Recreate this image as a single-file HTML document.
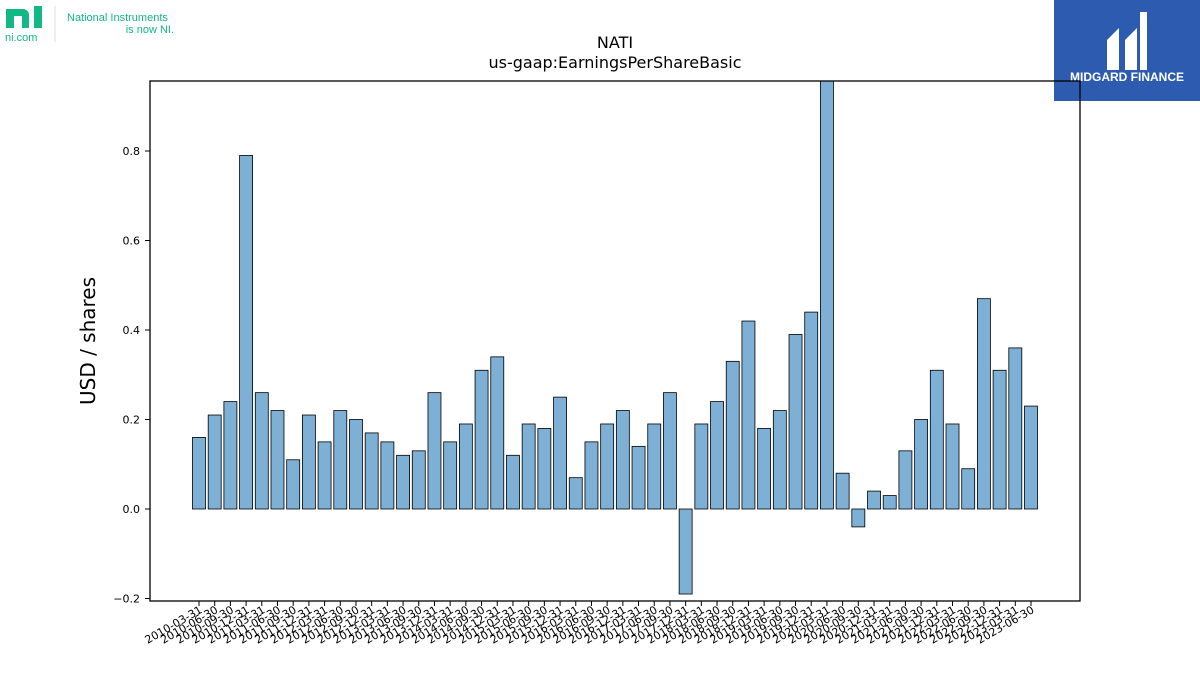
<!DOCTYPE html>
<html><head><meta charset="utf-8"><style>
body{margin:0;background:#fff;width:1200px;height:675px;overflow:hidden;font-family:"DejaVu Sans","Liberation Sans",sans-serif;}
</style></head><body>
<svg width="1200" height="675" xmlns="http://www.w3.org/2000/svg">
<g>
<rect x="6" y="9" width="8" height="19" fill="#12b886"/>
<path d="M14 9 h9 a6 6 0 0 1 6 6 v13 h-7 v-12 h-8 z" fill="#12b886"/>
<rect x="34" y="6" width="8" height="22" fill="#12b886"/>
<text x="5" y="41" font-size="11" fill="#12b886" font-family="Liberation Sans, sans-serif">ni.com</text>
<line x1="55" y1="6" x2="55" y2="42" stroke="#ddd"/>
<text x="67" y="21" font-size="11" fill="#12b886" font-family="Liberation Sans, sans-serif">National Instruments</text>
<text x="174" y="33" font-size="11" fill="#12b886" text-anchor="end" font-family="Liberation Sans, sans-serif">is now NI.</text>
</g>
<g>
<rect x="1054" y="0" width="146" height="101" fill="#2d5bb0"/>
<path d="M1107 70 v-30 l12 -12 v42 z M1125 70 v-30 l12 -12 v42 z" fill="#fff"/>
<rect x="1140" y="12" width="7" height="58" fill="#fff"/>
<text x="1127" y="81" font-size="12" font-weight="bold" fill="#fff" text-anchor="middle" font-family="Liberation Sans, sans-serif">MIDGARD FINANCE</text>
</g>
<text x="615" y="48" font-size="16" text-anchor="middle">NATI</text>
<text x="615" y="68" font-size="16" text-anchor="middle">us-gaap:EarningsPerShareBasic</text>
<text transform="translate(95,341) rotate(-90)" font-size="20" text-anchor="middle">USD / shares</text>
<defs><clipPath id="pa"><rect x="150" y="81" width="930" height="520"/></clipPath></defs>
<g id="bars" clip-path="url(#pa)"></g>
<g id="axes"></g>
<rect x="150" y="81" width="930" height="520" fill="none" stroke="#000" stroke-width="1.3"/>
</svg>
<script>
const values=[0.16,0.21,0.24,0.79,0.26,0.22,0.11,0.21,0.15,0.22,0.20,0.17,0.15,0.12,0.13,0.26,0.15,0.19,0.31,0.34,0.12,0.19,0.18,0.25,0.07,0.15,0.19,0.22,0.14,0.19,0.26,-0.19,0.19,0.24,0.33,0.42,0.18,0.22,0.39,0.44,1.0,0.08,-0.04,0.04,0.03,0.13,0.20,0.31,0.19,0.09,0.47,0.31,0.36,0.23];
const yTicks=[-0.2,0,0.2,0.4,0.6,0.8];
const ends=['03-31','06-30','09-30','12-31'];
const categories=[];
for(let i=0;i<values.length;i++){categories.push((2010+Math.floor(i/4))+'-'+ends[i%4]);}
const NS='http://www.w3.org/2000/svg';
const y=v=>509-v*447.5;
const x=i=>199+i*(1031-199)/(categories.length-1);
const bars=document.getElementById('bars'),axes=document.getElementById('axes');
values.forEach((v,i)=>{
 const r=document.createElementNS(NS,'rect');
 r.setAttribute('x',x(i)-6.5);r.setAttribute('width',13);
 r.setAttribute('y',Math.min(y(v),y(0)));r.setAttribute('height',Math.abs(y(v)-y(0)));
 r.setAttribute('fill','#7eb0d5');r.setAttribute('stroke','#000');r.setAttribute('stroke-width','0.8');
 
 
 bars.appendChild(r);
});
categories.forEach((c,i)=>{
 const l=document.createElementNS(NS,'line');
 l.setAttribute('x1',x(i));l.setAttribute('x2',x(i));l.setAttribute('y1',601);l.setAttribute('y2',606);l.setAttribute('stroke','#000');
 
 
 axes.appendChild(l);
 const t=document.createElementNS(NS,'text');
 t.setAttribute('transform','translate('+(x(i)+4)+',612) rotate(-30)');
 t.setAttribute('text-anchor','end');t.setAttribute('font-size','11');t.textContent=c;
 
 
 axes.appendChild(t);
});
yTicks.forEach(v=>{
 const l=document.createElementNS(NS,'line');
 l.setAttribute('x1',145);l.setAttribute('x2',150);l.setAttribute('y1',y(v));l.setAttribute('y2',y(v));l.setAttribute('stroke','#000');
 
 
 axes.appendChild(l);
 const t=document.createElementNS(NS,'text');
 t.setAttribute('x',140);t.setAttribute('y',y(v)+4);t.setAttribute('text-anchor','end');t.setAttribute('font-size','11');
 t.textContent=(v<0?'\u2212':'')+Math.abs(v).toFixed(1);
 
 
 axes.appendChild(t);
});
</script>
</body></html>
